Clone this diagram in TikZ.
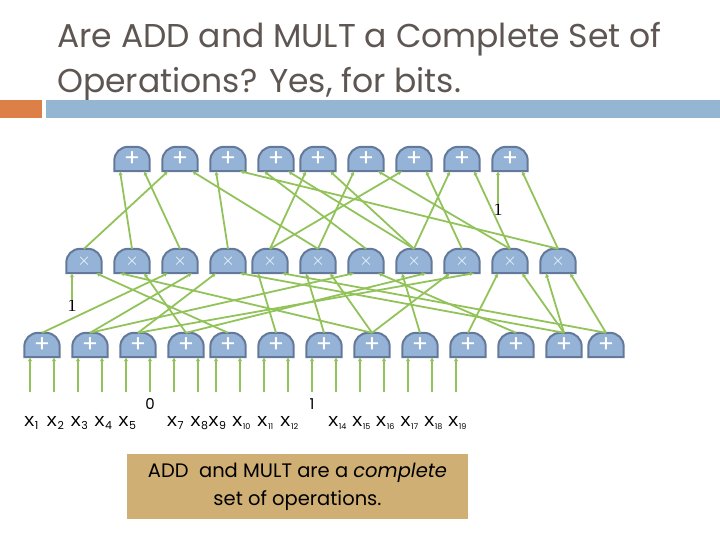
\documentclass[tikz,border=0pt]{standalone}
\usepackage{fontspec}
\setmainfont{Poppins}
\newfontfamily\monofont{Liberation Mono}
\newfontfamily\seriffont{Liberation Serif}
\usepackage{tikz}
\usetikzlibrary{arrows.meta,backgrounds}
\definecolor{titlegray}{HTML}{5E5652}
\definecolor{barorange}{HTML}{DD8047}
\definecolor{barblue}{HTML}{94B6D2}
\definecolor{gatefill}{HTML}{94B3D6}
\definecolor{gateline}{HTML}{64799A}
\definecolor{wire}{HTML}{92C35A}
\definecolor{notetan}{HTML}{CFAF74}
\newcommand{\xin}[1]{{\monofont x}\raisebox{-3pt}{\ifnum#1>9 \fontsize{8}{8}\else\fontsize{11}{11}\fi\selectfont #1}}

\begin{document}
\begin{tikzpicture}[x=1pt, y=-1pt,
  titletext/.style={anchor=base west, inner sep=0pt, text=titlegray, font=\fontsize{33}{33}\selectfont},
  gate/.style={minimum width=35pt, minimum height=24pt, inner sep=0pt, text=white},
  addgate/.style={gate, font=\fontsize{24}{24}\selectfont},
  multgate/.style={gate, font=\fontsize{16}{16}\selectfont},
  body/.style={draw=gateline, fill=gatefill, line width=2pt},
  arr/.style={-{Latex[length=4pt, width=4.5pt]}, draw=wire, line width=1.8pt},
  onelbl/.style={inner sep=0pt, font=\seriffont\fontsize{18}{18}\selectfont},
  bitlbl/.style={inner sep=0pt, font=\fontsize{15}{15}\selectfont},
  xlbl/.style={inner sep=0pt, anchor=base, font=\fontsize{19}{19}\selectfont},
  note/.style={fill=notetan, minimum width=341pt, minimum height=65pt, align=center, font=\fontsize{19.5}{28}\selectfont}
]
\useasboundingbox (0,0) rectangle (720,540);

% title and bars
\node[titletext] (title1) at (57,48) {Are ADD and MULT a Complete Set of};
\node[titletext] (title2) at (57,93) {Operations? Yes, for bits.};
\fill[barorange] (0,100) rectangle (42,118);
\fill[barblue] (46,100) rectangle (720,118);

% gates
\foreach \x [count=\i] in {132,180,228,276,318,366,414,462,510}
  \node[addgate] (t\i) at (\x,159) {+};
\foreach \x [count=\i] in {84,132,180,228,270,318,366,414,462,510,558}
  \node[multgate] (m\i) at (\x,261) {$\times$};
\foreach \x [count=\i] in {42,90,138,186,228,276,324,372,420,468,516,564,606}
  \node[addgate] (b\i) at (\x,345) {+};

\begin{scope}[on background layer]
  \foreach \r/\n in {t/9,m/11,b/13}
    \foreach \i in {1,...,\n}
      \path[body] (\r\i.south west) -- ([yshift=-14pt]\r\i.north west)
        .. controls ([yshift=-6pt]\r\i.north west) and ([xshift=6pt]\r\i.north west) .. ([xshift=14pt]\r\i.north west)
        -- ([xshift=-14pt]\r\i.north east)
        .. controls ([xshift=-6pt]\r\i.north east) and ([yshift=-6pt]\r\i.north east) .. ([yshift=-14pt]\r\i.north east)
        -- (\r\i.south east) -- cycle;
\end{scope}

% constants
\node[onelbl] (oneA) at (498,210) {1};
\node[onelbl] (oneB) at (72,306) {1};

% top row inputs
\draw[arr] (m2.north) -- ([xshift=-12pt]t1.south);
\draw[arr] (m3.north) -- ([xshift=12pt]t1.south);
\draw[arr] (m1.north) -- ([xshift=-12pt]t2.south);
\draw[arr] (m6.north) -- ([xshift=12pt]t2.south);
\draw[arr] (m4.north) -- ([xshift=-12pt]t3.south);
\draw[arr] (m11.north) -- ([xshift=12pt]t3.south);
\draw[arr] (m7.north) -- ([xshift=-12pt]t4.south);
\draw[arr] (m8.north) -- ([xshift=12pt]t4.south);
\draw[arr] (m5.north) -- ([xshift=-12pt]t5.south);
\draw[arr] (m8.north) -- ([xshift=12pt]t5.south);
\draw[arr] (m6.north) -- ([xshift=-12pt]t6.south);
\draw[arr] (m10.north) -- ([xshift=12pt]t6.south);
\draw[arr] (m5.north) -- ([xshift=-12pt]t7.south);
\draw[arr] (m9.north) -- ([xshift=12pt]t7.south);
\draw[arr] (m8.north) -- ([xshift=-12pt]t8.south);
\draw[arr] (m10.north) -- ([xshift=12pt]t8.south);
\draw[arr] (oneA.north) -- ([xshift=-12pt]t9.south);
\draw[arr] (m11.north) -- ([xshift=12pt]t9.south);

% middle row inputs
\draw[arr] (oneB.north) -- ([xshift=-12pt]m1.south);
\draw[arr] (b5.north) -- ([xshift=12pt]m1.south);
\draw[arr] (b8.north) -- ([xshift=-12pt]m2.south);
\draw[arr] (b4.north) -- ([xshift=12pt]m2.south);
\draw[arr] (b1.north) -- ([xshift=-12pt]m3.south);
\draw[arr] (b2.north) -- ([xshift=12pt]m3.south);
\draw[arr] (b3.north) -- ([xshift=-12pt]m4.south);
\draw[arr] (b12.north) -- ([xshift=12pt]m4.south);
\draw[arr] (b6.north) -- ([xshift=-12pt]m5.south);
\draw[arr] (b13.north) -- ([xshift=12pt]m5.south);
\draw[arr] (b7.north) -- ([xshift=-12pt]m6.south);
\draw[arr] (b8.north) -- ([xshift=12pt]m6.south);
\draw[arr] (b2.north) -- ([xshift=-12pt]m7.south);
\draw[arr] (b11.north) -- ([xshift=12pt]m7.south);
\draw[arr] (b9.north) -- ([xshift=-12pt]m8.south);
\draw[arr] (b4.north) -- ([xshift=12pt]m8.south);
\draw[arr] (b8.north) -- ([xshift=-12pt]m9.south);
\draw[arr] (b3.north) -- ([xshift=12pt]m9.south);
\draw[arr] (b10.north) -- ([xshift=-12pt]m10.south);
\draw[arr] (b12.north) -- ([xshift=12pt]m10.south);
\draw[arr] (b12.north) -- ([xshift=-12pt]m11.south);
\draw[arr] (b13.north) -- ([xshift=12pt]m11.south);

% bottom row inputs
\foreach \g/\dx [count=\i] in {b1/-12,b1/12,b2/-12,b2/12,b3/-12,b3/12,b4/-12,b4/12,b5/-12,b5/12,b6/-12,b6/12,b7/-12,b7/12,b8/-12,b8/12,b9/-12,b9/12,b10/-12}{
  \path ([xshift=\dx pt]\g.south) ++(0,35) coordinate (in\i);
  \draw[arr] (in\i) -- ([xshift=\dx pt]\g.south);
}
\node[bitlbl] (zero) at (in6 |- 0,404) {0};
\node[bitlbl] (oneC) at (in13 |- 0,404) {1};
\foreach \n in {1,2,3,4,5,7,8,9,10,11,12,14,15,16,17,18,19}
  \node[xlbl, xshift=1pt] (x\n) at (in\n |- 0,426) {\xin{\n}};

% note
\node[note] (remark) at (297.5,486.5) {ADD~ and MULT are a \textit{complete}\\set of operations.};
\end{tikzpicture}
\end{document}
